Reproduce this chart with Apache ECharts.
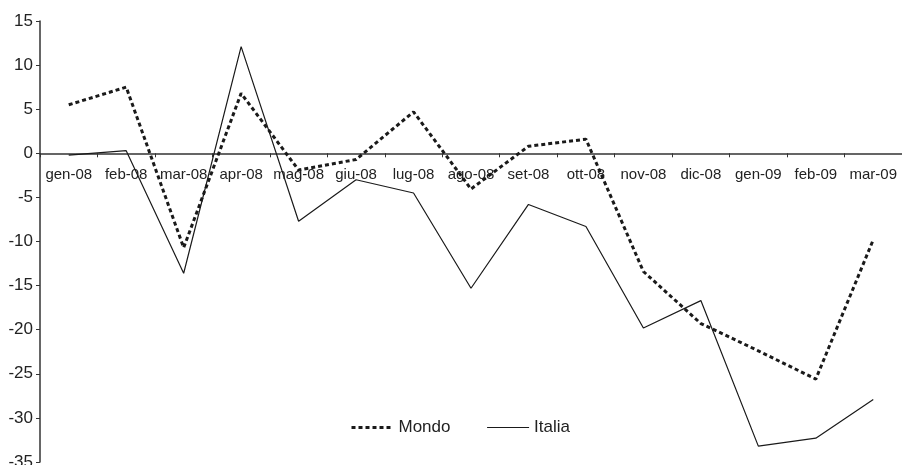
<!DOCTYPE html>
<html>
<head>
<meta charset="utf-8">
<script src="https://cdn.jsdelivr.net/npm/echarts@6/dist/echarts.min.js"></script>
<style>html,body{margin:0;padding:0;background:#fff}#c{width:902px;height:465px}</style>
</head>
<body>
<div id="c"></div>
<script>
const categories = ['gen-08','feb-08','mar-08','apr-08','mag-08','giu-08','lug-08','ago-08','set-08','ott-08','nov-08','dic-08','gen-09','feb-09','mar-09'];
const mondo = [5.5, 7.5, -10.7, 6.8, -1.9, -0.7, 4.7, -4.05, 0.8, 1.6, -13.4, -19.3, -22.4, -25.6, -9.8];
const italia = [-0.2, 0.3, -13.6, 12.1, -7.7, -3.0, -4.5, -15.3, -5.8, -8.3, -19.8, -16.7, -33.2, -32.3, -27.9];
const yTicks = {min: -35, max: 15, interval: 5};

const chart = echarts.init(document.getElementById('c'));
const font = 'Liberation Sans, Arial, sans-serif';
const gridTop = 21, gridBottom = 3, H = 465;
const plotH = H - gridTop - gridBottom;
const zeroOffset = plotH * (0 - yTicks.min) / (yTicks.max - yTicks.min);
chart.setOption({
  animation: false,
  backgroundColor: '#fff',
  grid: {left: 40, right: 0, top: gridTop, bottom: gridBottom, containLabel: false, outerBoundsMode: 'none'},
  legend: {
    left: 345, top: 414,
    itemWidth: 42, itemHeight: 14, itemGap: 36,
    itemStyle: {opacity: 0},
    textStyle: {fontFamily: font, fontSize: 17, color: '#222'},
    data: [
      {name: 'Mondo', lineStyle: {width: 3, type: [4, 3], color: '#1a1a1a'}},
      {name: 'Italia', lineStyle: {width: 1.2, type: 'solid', color: '#1a1a1a'}}
    ]
  },
  xAxis: {
    type: 'category',
    data: categories,
    boundaryGap: true,
    position: 'bottom',
    offset: -zeroOffset,
    axisLine: {onZero: false, lineStyle: {color: '#333', width: 1.5}},
    axisTick: {show: true, inside: false, length: 4, alignWithLabel: false, lineStyle: {color: '#333'}},
    axisLabel: {interval: 0, margin: 14, fontFamily: font, fontSize: 15, color: '#222', hideOverlap: false},
    splitLine: {show: false}
  },
  yAxis: {
    type: 'value',
    min: yTicks.min, max: yTicks.max, interval: yTicks.interval,
    axisLine: {show: true, lineStyle: {color: '#333', width: 1.5}},
    axisTick: {show: true, length: 4, lineStyle: {color: '#333'}},
    axisLabel: {margin: 7, fontFamily: font, fontSize: 17, color: '#222'},
    splitLine: {show: false}
  },
  series: [
    {
      name: 'Mondo', type: 'line', data: mondo, symbol: 'none',
      lineStyle: {color: '#1a1a1a', width: 3, type: [4, 3], cap: 'butt'},
      itemStyle: {color: '#1a1a1a'}
    },
    {
      name: 'Italia', type: 'line', data: italia, symbol: 'none',
      lineStyle: {color: '#1a1a1a', width: 1.2, type: 'solid'},
      itemStyle: {color: '#1a1a1a'}
    }
  ]
});
</script>
</body>
</html>
